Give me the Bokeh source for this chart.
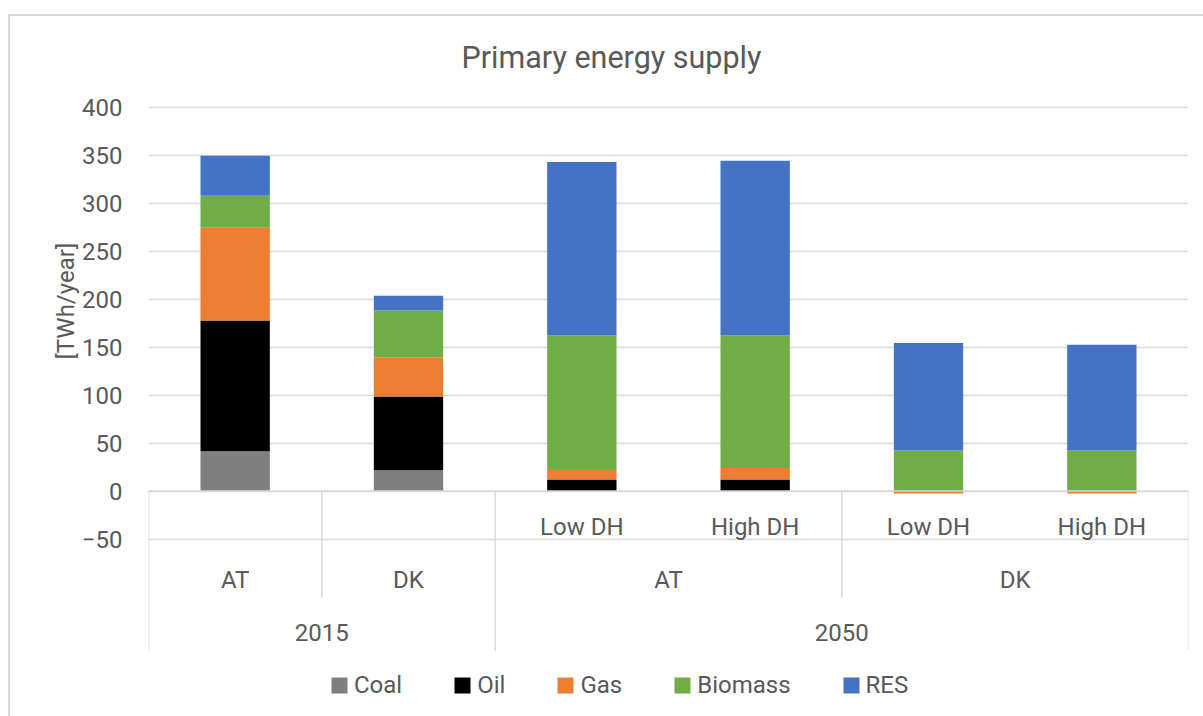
from bokeh.plotting import figure
from bokeh.models import FactorRange, Range1d, FixedTicker, Title, Legend, LegendItem, Span
from bokeh.core.properties import value
from bokeh.embed import file_html
from bokeh.resources import INLINE

# ---------------- data ----------------
years = ["2015", "2015", "2050", "2050", "2050", "2050"]
countries = ["AT", "DK", "AT", "AT", "DK", "DK"]
scenarios = ["", "", "Low DH", "High DH", "Low DH", "High DH"]

series_names = ["Coal", "Oil", "Gas", "Biomass", "RES"]
coal = [41.4, 21.6, 0.0, 0.0, 0.0, 0.0]
oil = [136.4, 77.0, 12.2, 12.2, 0.0, 0.0]
gas = [96.6, 40.7, 10.7, 11.8, -2.5, -2.5]
biomass = [33.3, 48.9, 139.3, 138.2, 42.4, 42.4]
res = [41.7, 15.3, 180.5, 182.0, 111.8, 110.1]
series_colors = ["#7f7f7f", "#000000", "#ed7d31", "#70ad47", "#4472c4"]

y_ticks = [-50, 0, 50, 100, 150, 200, 250, 300, 350, 400]

# ---------------- style ----------------
FONT = "Roboto"
TXT = "#595959"
GRID = "#d9d9d9"

factors = list(zip(years, countries, scenarios))
x_range = FactorRange(factors=factors, range_padding=0, group_padding=0,
                      subgroup_padding=0, factor_padding=0)

p = figure(width=1203, height=716, x_range=x_range, y_range=Range1d(-234.8, 410),
           output_backend="svg", toolbar_location=None, x_axis_location=None,
           min_border_left=148, min_border_right=15, min_border_top=97, min_border_bottom=0,
           title="Primary energy supply")
p.outline_line_color = None
p.background_fill_color = "white"
p.border_fill_color = None
# light chart-area border (left and top edges)
p.styles = {"box-shadow": ("inset 8px 0 0 0 white, inset 0 14px 0 0 white, "
                           "inset 10px 0 0 0 #d9d9d9, inset 0 16px 0 0 #d9d9d9")}

p.title.align = "left"
p.title.text_font = FONT
p.title.text_font_size = "30.5px"
p.title.text_font_style = "normal"
p.title.text_color = TXT
p.title.offset = 313
p.title.standoff = 45

# y axis
p.yaxis.ticker = FixedTicker(ticks=y_ticks)
p.ygrid.ticker = FixedTicker(ticks=y_ticks)
p.ygrid.grid_line_color = GRID
p.ygrid.grid_line_width = 1.5
p.xgrid.visible = False
p.yaxis.axis_line_color = None
p.yaxis.major_tick_line_color = None
p.yaxis.minor_tick_line_color = None
p.yaxis.major_tick_out = 0
p.yaxis.major_tick_in = 0
p.yaxis.major_label_standoff = 26
p.yaxis.major_label_text_font = FONT
p.yaxis.major_label_text_font_size = "24px"
p.yaxis.major_label_text_color = TXT

ytitle = Title(text="[TWh/year]", align="left", offset=357, standoff=-2,
               text_font=FONT, text_font_size="24px", text_font_style="normal",
               text_color=TXT)
p.add_layout(ytitle, "left")

# ---------------- stacked bars (positives up, negatives down) ----------------
pos = [0.0] * len(factors)
neg = [0.0] * len(factors)
items = []
for name, vals, col in zip(series_names, [coal, oil, gas, biomass, res], series_colors):
    bottoms, tops = [], []
    for i, v in enumerate(vals):
        if v >= 0:
            bottoms.append(pos[i]); tops.append(pos[i] + v); pos[i] += v
        else:
            bottoms.append(neg[i] + v); tops.append(neg[i]); neg[i] += v
    r = p.vbar(x=factors, bottom=bottoms, top=tops, width=0.4,
               fill_color=col, line_color=None)
    items.append(LegendItem(label=name, renderers=[r]))

# axis line at zero drawn over the bars
p.add_layout(Span(location=0, dimension="width", line_color=GRID, line_width=1.5, level="overlay"))

# ---------------- category table under the zero line ----------------
row_bottom = {1: -50, 2: -111, 3: -166}
bx, by = [], []
n = len(factors)
for i in range(n + 1):
    if i == 0 or i == n or years[i - 1] != years[i]:
        depth = 3
    elif countries[i - 1] != countries[i]:
        depth = 2
    else:
        depth = 0
    if depth:
        bx.append(i); by.append(row_bottom[depth])
p.segment(x0=bx, y0=[0] * len(bx), x1=bx, y1=by, line_color=GRID, line_width=1.5)

txt_kw = dict(text_align="center", text_baseline="middle", text_font=value(FONT),
              text_font_size="24px", text_color=TXT)

inner = [(f, s) for f, s in zip(factors, scenarios) if s]
p.text(x=[f for f, _ in inner], y=[0] * len(inner), text=[s for _, s in inner],
       y_offset=36, **txt_kw)

mids = []
for y, c in zip(years, countries):
    if (y, c) not in mids:
        mids.append((y, c))
p.text(x=mids, y=[0] * len(mids), text=[c for _, c in mids], y_offset=89, **txt_kw)

tops_ = []
for y in years:
    if y not in tops_:
        tops_.append(y)
p.text(x=tops_, y=[0] * len(tops_), text=tops_, y_offset=141, **txt_kw)

# ---------------- legend ----------------
legend = Legend(items=items, orientation="horizontal", location=(181, 17),
                glyph_width=20, glyph_height=20, label_standoff=5, spacing=50,
                padding=0, margin=0, border_line_color=None, background_fill_alpha=0,
                label_text_font=FONT, label_text_font_size="24px", label_text_color=TXT)
p.add_layout(legend)

open("out.html", "w").write(file_html(p, INLINE))
